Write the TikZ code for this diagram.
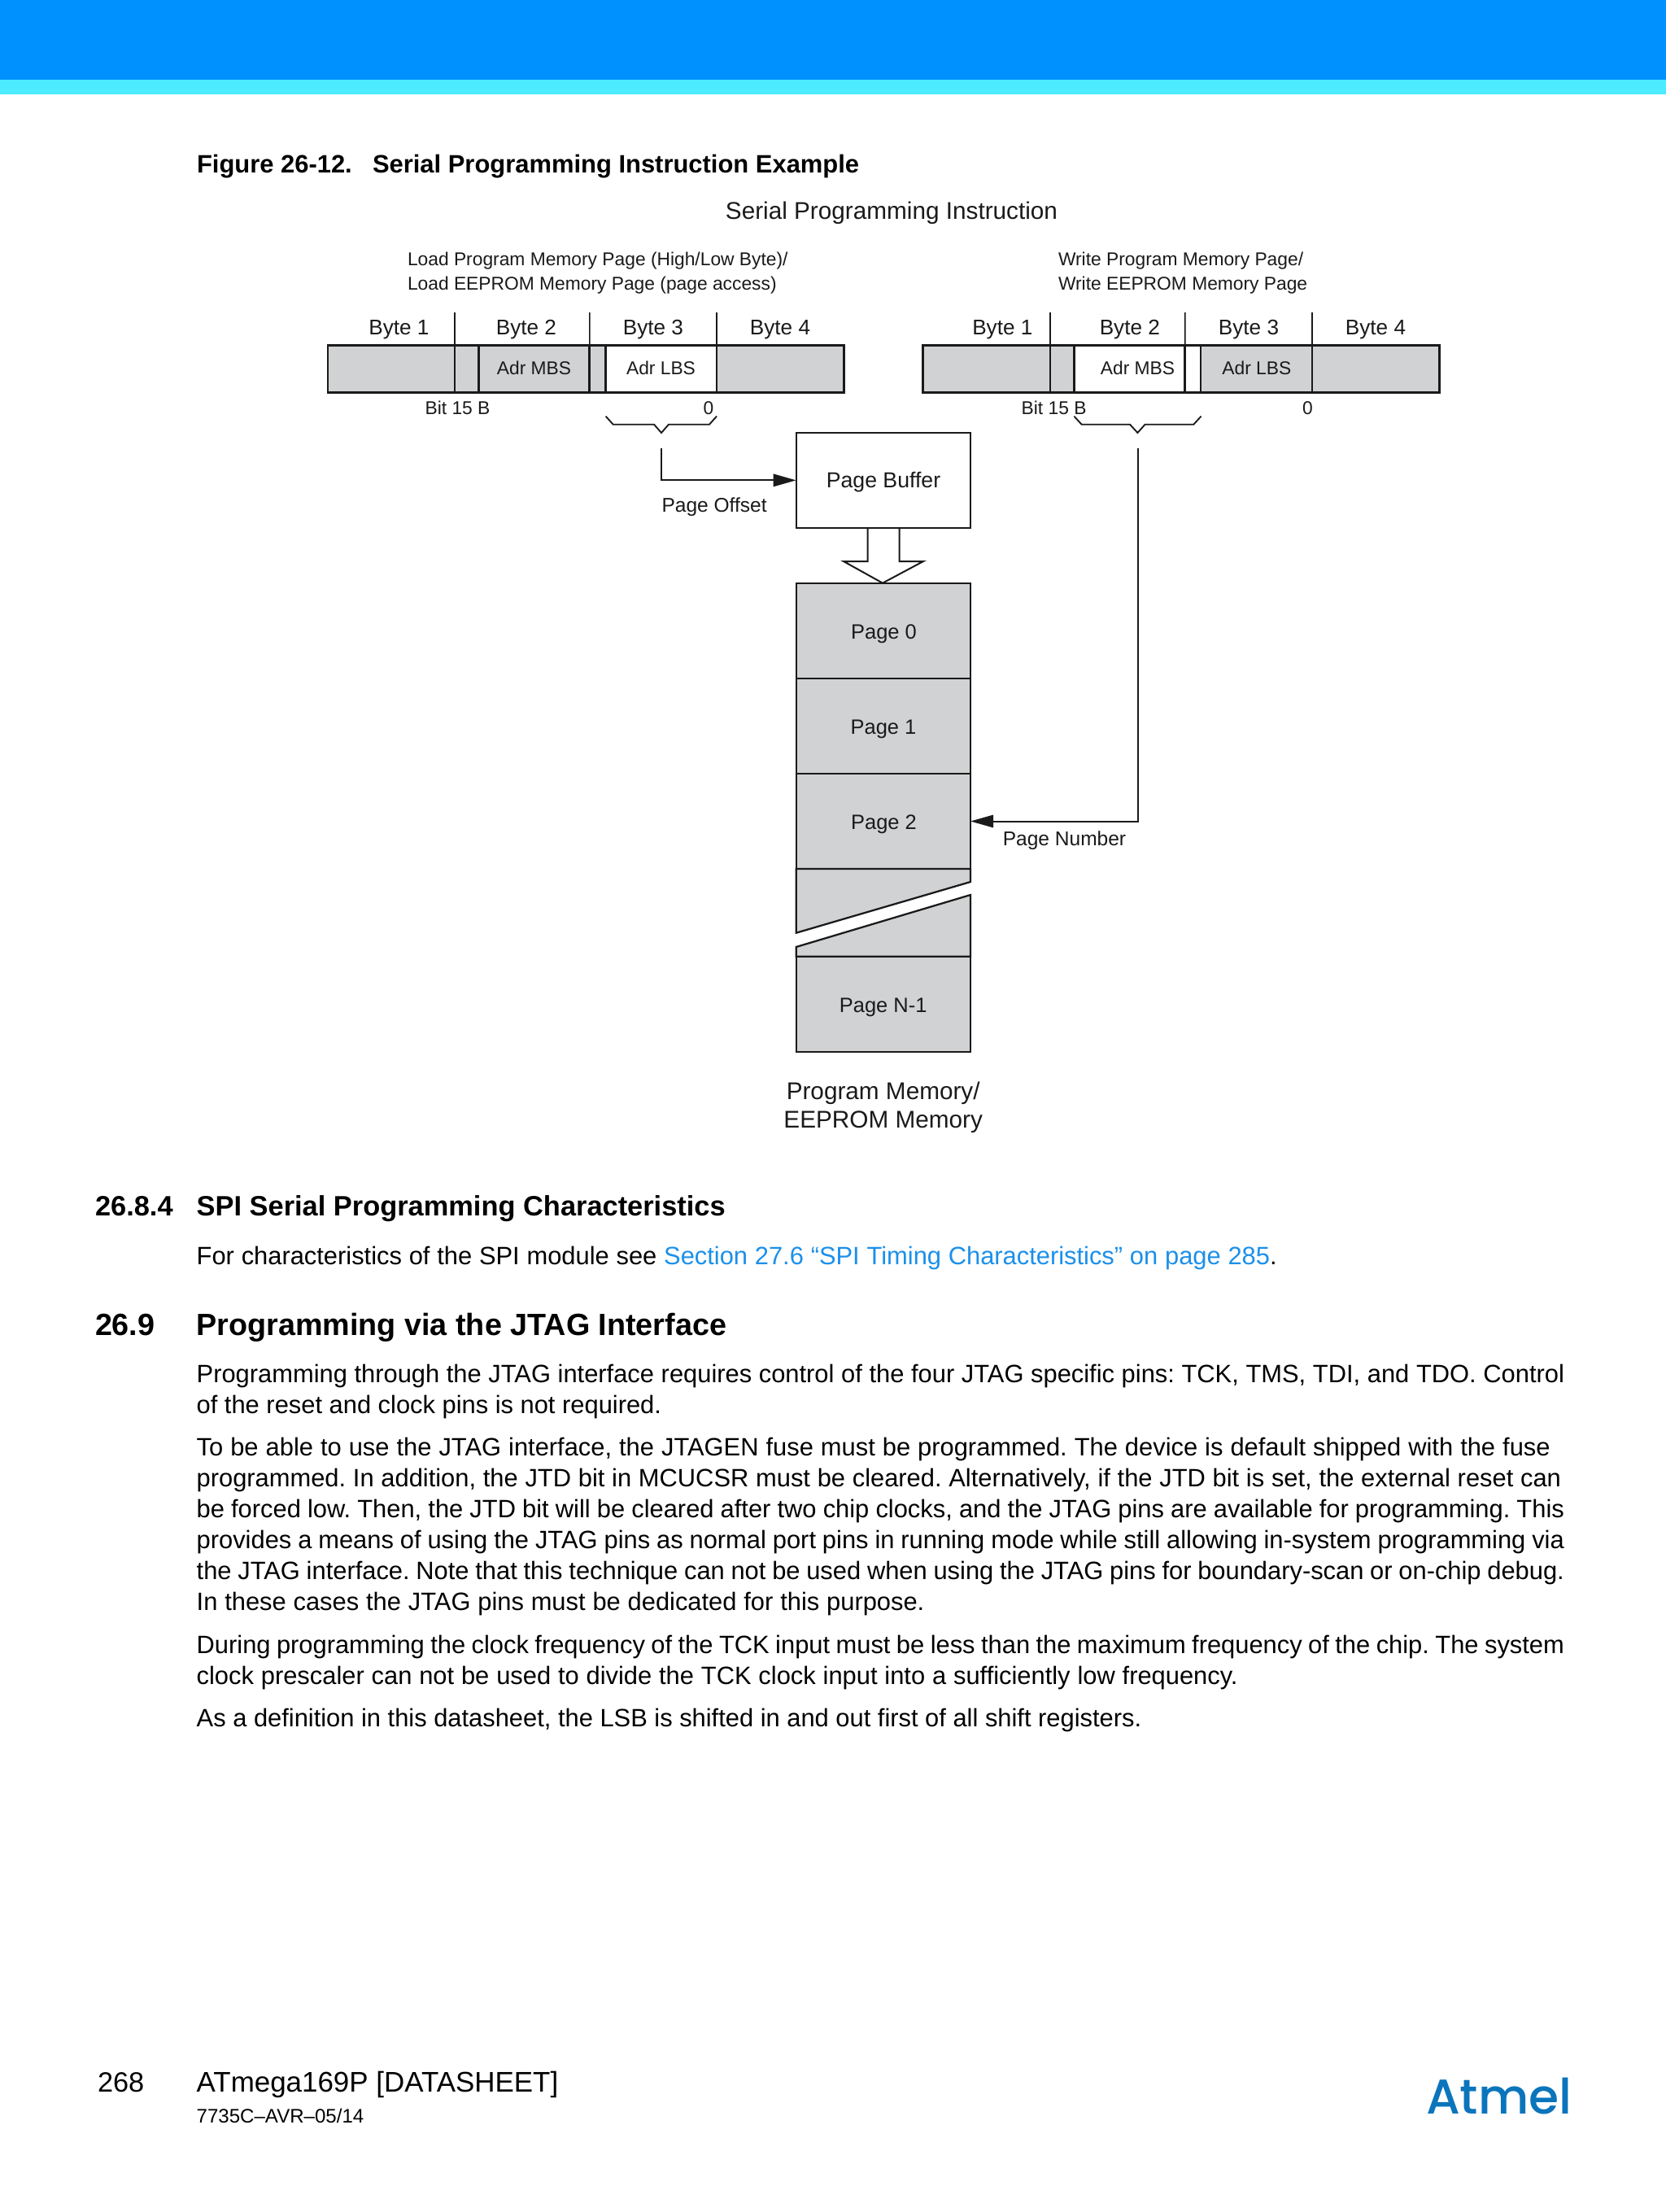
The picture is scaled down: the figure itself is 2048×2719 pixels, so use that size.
\documentclass[tikz,border=0pt]{standalone}
\usepackage{fontspec}
\setmainfont{Liberation Sans}
\newfontfamily\logofont{Poppins}[UprightFont=* Medium]
\usetikzlibrary{arrows.meta}
\definecolor{hdrblue}{HTML}{0091FF}
\definecolor{hdrcyan}{HTML}{4CEBFF}
\definecolor{cellgrey}{HTML}{D1D2D4}
\definecolor{linkblue}{HTML}{1B90EA}
\definecolor{logoblue}{HTML}{0B75BC}
\definecolor{ink}{HTML}{1A1A1A}
\newcommand\cellbox[6]{\node[#6,minimum width={(#4-#2)*0.75pt},minimum height={(#5-#3)*0.75pt}] (#1) at ({(#2+#4)/2},{(#3+#5)/2}) {};}
\newcommand\fitline[2]{\makebox[#1][s]{\spaceskip=.278em plus 1em minus .2em\relax #2}}
\tikzset{
  x=0.75pt,y=-0.75pt,
  txt/.style={inner sep=0pt,outer sep=0pt,anchor=base west,text=black},
  body/.style={txt,font=\fontsize{23.15pt}{23.15pt}\selectfont},
  sechead/.style={txt,font=\fontsize{25.8pt}{25.8pt}\selectfont\bfseries},
  bighead/.style={txt,font=\fontsize{28.3pt}{28.3pt}\selectfont\bfseries},
  fighead/.style={txt,font=\fontsize{23.2pt}{23.2pt}\selectfont\bfseries},
  foot/.style={txt,font=\fontsize{26.2pt}{26.2pt}\selectfont},
  footsmall/.style={txt,font=\fontsize{18.05pt}{18.05pt}\selectfont},
  dlab/.style={inner sep=0pt,outer sep=0pt,anchor=base,text=ink,font=\fontsize{17.1pt}{17.1pt}\selectfont},
  dlabl/.style={dlab,anchor=base west},
  bytelab/.style={dlab,font=\fontsize{19.6pt}{19.6pt}\selectfont},
  pagelab/.style={dlab,font=\fontsize{19.1pt}{19.1pt}\selectfont},
  sidelab/.style={dlab,font=\fontsize{18.4pt}{18.4pt}\selectfont},
  buflab/.style={dlab,font=\fontsize{20pt}{20pt}\selectfont},
  biglab/.style={dlab,font=\fontsize{22.3pt}{22.3pt}\selectfont},
  grey/.style={draw=ink,fill=cellgrey,line width=2.1pt,inner sep=0pt,outer sep=0pt},
  whitec/.style={grey,fill=white},
  pagebox/.style={grey,line width=1.7pt},
  tick/.style={draw=ink,line width=1.2pt},
  bracel/.style={draw=ink,line width=1.4pt},
  conn/.style={draw=ink,line width=1.5pt,-{Triangle[length=21pt,width=11.5pt]}},
  hollow/.style={draw=ink,fill=white,line width=1.5pt},
}
\begin{document}
\frenchspacing
\begin{tikzpicture}
\useasboundingbox (0,0) rectangle (2048,2719);
\fill[white] (0,0) rectangle (2048,2719);
\fill[hdrblue] (0,0) rectangle (2048,98);
\fill[hdrcyan] (0,98) rectangle (2048,116);

% titles
\node[fighead] (figno) at (242,212) {Figure 26-12.};
\node[fighead] (figtitle) at (458,212) {Serial Programming Instruction Example};
\node[biglab,font=\fontsize{22.3pt}{22.3pt}\selectfont] (serial) at (1096,269) {Serial Programming Instruction};
\node[dlabl] (load1) at (501,326.7) {Load Program Memory Page (High/Low Byte)/};
\node[dlabl] (load2) at (501,356) {Load EEPROM Memory Page (page access)};
\node[dlabl] (write1) at (1301,326.7) {Write Program Memory Page/};
\node[dlabl] (write2) at (1301,356) {Write EEPROM Memory Page};

% left instruction bar
\cellbox{la}{403}{424.5}{559}{482.7}{grey}
\cellbox{lb}{559}{424.5}{588.4}{482.7}{grey}
\cellbox{lc}{588.4}{424.5}{724.8}{482.7}{grey}
\cellbox{ld}{724.8}{424.5}{744.6}{482.7}{grey}
\cellbox{le}{744.6}{424.5}{881}{482.7}{whitec}
\cellbox{lf}{881}{424.5}{1037.5}{482.7}{grey}
\coordinate (lt1) at (559,384); \coordinate (lt2) at (724.8,384); \coordinate (lt3) at (881,384);
\draw[tick] (lt1) -- (la.north east);
\draw[tick] (lt2) -- (lc.north east);
\draw[tick] (lt3) -- (le.north east);
\node[bytelab] (lb1) at (490.5,411.5) {Byte 1};
\node[bytelab] (lb2) at (647,411.5) {Byte 2};
\node[bytelab] (lb3) at (803,411.5) {Byte 3};
\node[bytelab] (lb4) at (959,411.5) {Byte 4};
\node[dlab] (lmbs) at (656.5,460) {Adr MBS};
\node[dlab] (llbs) at (812.5,460) {Adr LBS};
\node[dlab] (lbit) at (562.5,509) {Bit 15 B};
\node[dlab] (lzero) at (871,509) {0};
\draw[bracel] (744.6,511.7) -- (753.7,521.7) -- (804,521.7) -- (813,532) -- (822,521.7) -- (872,521.7) -- (881,511.7);

% right instruction bar
\cellbox{ra}{1134.4}{424.5}{1291}{482.7}{grey}
\cellbox{rb}{1291}{424.5}{1320.4}{482.7}{grey}
\cellbox{rc}{1320.4}{424.5}{1456.7}{482.7}{whitec}
\cellbox{rd}{1456.7}{424.5}{1476}{482.7}{whitec}
\cellbox{re}{1476}{424.5}{1612.9}{482.7}{grey}
\cellbox{rf}{1612.9}{424.5}{1769.4}{482.7}{grey}
\coordinate (rt1) at (1291,384); \coordinate (rt2) at (1456.7,384); \coordinate (rt3) at (1612.9,384);
\draw[tick] (rt1) -- (ra.north east);
\draw[tick] (rt2) -- (rc.north east);
\draw[tick] (rt3) -- (re.north east);
\node[bytelab] (rb1) at (1232.3,411.5) {Byte 1};
\node[bytelab] (rb2) at (1388.8,411.5) {Byte 2};
\node[bytelab] (rb3) at (1535,411.5) {Byte 3};
\node[bytelab] (rb4) at (1691,411.5) {Byte 4};
\node[dlab] (rmbs) at (1398.5,460) {Adr MBS};
\node[dlab] (rlbs) at (1544.8,460) {Adr LBS};
\node[dlab] (rbit) at (1295.6,509) {Bit 15 B};
\node[dlab] (rzero) at (1607.5,509) {0};
\draw[bracel] (1320.4,511.7) -- (1329.6,521.7) -- (1389,521.7) -- (1398.4,532) -- (1407.6,521.7) -- (1467.3,521.7) -- (1476.5,511.7);

% buffer and pages
\filldraw[hollow] (1066.7,649) -- (1066.7,690) -- (1037,690) -- (1085,716.7) -- (1135,690) -- (1105.7,690) -- (1105.7,649);
\cellbox{buffer}{978.7}{531.7}{1193}{649}{pagebox,fill=white}
\node[buflab] (bufl) at (1086,599.5) {Page Buffer};
\cellbox{page0}{978.7}{717.3}{1193}{834}{pagebox}
\cellbox{page1}{978.7}{834}{1193}{951}{pagebox}
\cellbox{page2}{978.7}{951}{1193}{1068}{pagebox}
\filldraw[draw=ink,fill=cellgrey,line width=1.7pt] (978.7,1068) -- (1193,1068) -- (1193,1084) -- (978.7,1146.7) -- cycle;
\filldraw[draw=ink,fill=cellgrey,line width=1.7pt] (978.7,1164) -- (1193,1100) -- (1193,1175.7) -- (978.7,1175.7) -- cycle;
\cellbox{pagen}{978.7}{1175.7}{1193}{1292.7}{pagebox}
\node[pagelab] (p0l) at (1086.5,785) {Page 0};
\node[pagelab] (p1l) at (1086,902.7) {Page 1};
\node[pagelab] (p2l) at (1086.5,1019) {Page 2};
\node[pagelab] (pnl) at (1085.7,1244) {Page N-1};

% connectors
\coordinate (offstart) at (813,550.7);
\coordinate (numstart) at (1399,550.7);
\draw[conn] (offstart) |- (buffer.west);
\draw[conn] (numstart) |- (page2.east);
\node[sidelab,anchor=base west] (offl) at (813.5,629) {Page Offset};
\node[sidelab] (numl) at (1308.5,1039) {Page Number};
\node[biglab] (pm1) at (1085.7,1351.7) {Program Memory/};
\node[biglab] (pm2) at (1085.7,1386.7) {EEPROM Memory};

% body text
\node[sechead] (s1n) at (117,1494) {26.8.4};
\node[sechead] (s1t) at (241.7,1494) {SPI Serial Programming Characteristics};
\node[body] (s1b) at (241.7,1554) {\fitline{996pt}{For characteristics of the SPI module see \textcolor{linkblue}{Section 27.6 “SPI Timing Characteristics” on page 285}.}};
\node[bighead] (s2n) at (117,1641) {26.9};
\node[bighead] (s2t) at (241.7,1641) {Programming via the JTAG Interface};
\node[body] (a1) at (241.7,1699) {\fitline{1261pt}{Programming through the JTAG interface requires control of the four JTAG specific pins: TCK, TMS, TDI, and TDO. Control}};
\node[body] (a2) at (241.7,1737) {of the reset and clock pins is not required.};
\node[body] (b1) at (241.7,1789) {\fitline{1248pt}{To be able to use the JTAG interface, the JTAGEN fuse must be programmed. The device is default shipped with the fuse}};
\node[body] (b2) at (241.7,1827) {\fitline{1258pt}{programmed. In addition, the JTD bit in MCUCSR must be cleared. Alternatively, if the JTD bit is set, the external reset can}};
\node[body] (b3) at (241.7,1865) {\fitline{1261pt}{be forced low. Then, the JTD bit will be cleared after two chip clocks, and the JTAG pins are available for programming. This}};
\node[body] (b4) at (241.7,1903) {\fitline{1261pt}{provides a means of using the JTAG pins as normal port pins in running mode while still allowing in-system programming via}};
\node[body] (b5) at (241.7,1941) {\fitline{1261pt}{the JTAG interface. Note that this technique can not be used when using the JTAG pins for boundary-scan or on-chip debug.}};
\node[body] (b6) at (241.7,1979.5) {\fitline{671pt}{In these cases the JTAG pins must be dedicated for this purpose.}};
\node[body] (c1) at (241.7,2032) {\fitline{1261pt}{During programming the clock frequency of the TCK input must be less than the maximum frequency of the chip. The system}};
\node[body] (c2) at (241.7,2070) {\fitline{960pt}{clock prescaler can not be used to divide the TCK clock input into a sufficiently low frequency.}};
\node[body] (d1) at (241.7,2122) {As a definition in this datasheet, the LSB is shifted in and out first of all shift registers.};

% footer
\node[foot,font=\fontsize{25.7pt}{25.7pt}\selectfont] (pgno) at (120,2571.7) {268};
\node[foot] (pgname) at (241.7,2571.7) {ATmega169P [DATASHEET]};
\node[footsmall] (docno) at (241.7,2609) {7735C–AVR–05/14};
\node[txt,text=logoblue,font=\fontsize{45pt}{45pt}\logofont\selectfont] (logo) at (1753,2598) {Atmel};
\end{tikzpicture}
\end{document}
